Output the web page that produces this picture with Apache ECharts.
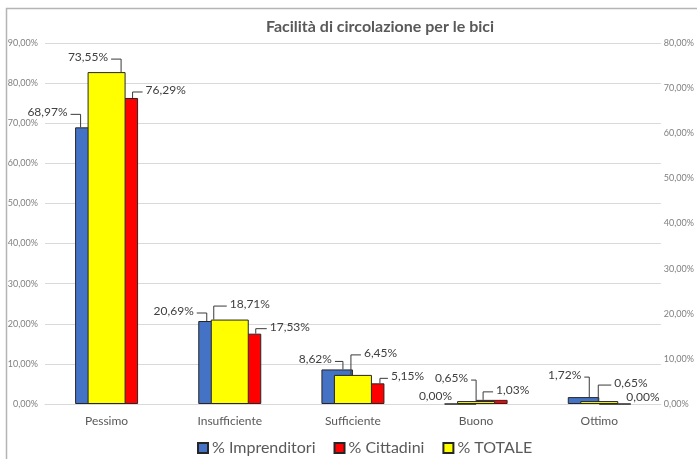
<!DOCTYPE html>
<html>
<head>
<meta charset="utf-8">
<script src="https://cdn.jsdelivr.net/npm/echarts@6/dist/echarts.min.js"></script>
<style>
html,body{margin:0;padding:0;background:#fff;}
#main{width:697px;height:459px;}
</style>
</head>
<body>
<div id="main"></div>
<script>
// categorie e valori (percentuali)
var categorie = ['Pessimo', 'Insufficiente', 'Sufficiente', 'Buono', 'Ottimo'];
var imprenditori = [68.97, 20.69, 8.62, 0.00, 1.72];
var cittadini = [76.29, 17.53, 5.15, 1.03, 0.00];
var totale = [73.55, 18.71, 6.45, 0.65, 0.65];
var nomiSerie = ['% Imprenditori', '% Cittadini', '% TOTALE'];

// posizione delle etichette tipo excel: [dx aggancio, salita, tratto orizzontale, linea si/no]
var etichetteImpr = [[-26, 13, -10, 1], [-23, 8, -10, 1], [-10, 8, -8, 1], [-21, 6, 0, 0], [-10, 20, -5, 1]];
var etichetteCitt = [[26, 6, 10, 1], [26, 5, 11, 1], [27, 5, 8, 1], [7, 8, 10, 1], [20, 5, 4, 0]];
var etichetteTot = [[14.5, 13, -10, 1], [-16, 13.5, 13, 1], [-2, 20, 10, 1], [0, 21, -5, 1], [-1, 16, 13, 1]];

var font = 'Lato, "Open Sans", sans-serif';

function fmt(v){
    return v.toFixed(2).replace('.', ',') + '%';
}

function serieEtichette(nome, valori, pos, yIdx, lato){
    return {
        name: nome,
        type: 'custom',
        xAxisIndex: 0,
        yAxisIndex: yIdx,
        z: 10,
        silent: true,
        data: valori.map(function(v, i){ return [i, v]; }),
        renderItem: function(params, api){
            var i = params.dataIndex;
            var p = api.coord([api.value(0), api.value(1)]);
            var cfg = pos[i];
            var ax = p[0] + cfg[0];
            var ey = p[1] - cfg[1];
            var ex = ax + cfg[2];
            var dir = cfg[2] < 0 ? -1 : (cfg[2] > 0 ? 1 : lato);
            var figli = [];
            if (cfg[3]) {
                figli.push({
                    type: 'polyline',
                    shape: {points: [[ax, p[1]], [ax, ey], [ex, ey]]},
                    style: {stroke: '#3a3a3a', lineWidth: 1, fill: null}
                });
            }
            figli.push({
                type: 'text',
                style: {
                    text: fmt(api.value(1)),
                    x: ex + 3 * dir,
                    y: ey - 2,
                    align: dir < 0 ? 'right' : 'left',
                    verticalAlign: 'middle',
                    fill: '#404040',
                    font: '12px ' + font
                }
            });
            return {type: 'group', children: figli};
        }
    };
}

var chart = echarts.init(document.getElementById('main'));

var option = {
    backgroundColor: '#fff',
    animation: false,
    title: {
        text: 'Facilità di circolazione per le bici',
        left: 375,
        top: 14,
        textAlign: 'center',
        textStyle: {fontFamily: font, fontSize: 16, fontWeight: 'bold', color: '#595959'}
    },
    graphic: [{
        type: 'rect',
        shape: {x: 6.5, y: 8.5, width: 900, height: 700},
        style: {fill: null, stroke: '#b4b4b4', lineWidth: 1.5},
        silent: true
    }],
    legend: {
        data: nomiSerie,
        top: 435,
        left: 192,
        icon: 'rect',
        itemWidth: 10,
        itemHeight: 10,
        itemGap: 18,
        textStyle: {fontFamily: font, fontSize: 16, color: '#595959', padding: [0, 0, 0, -1]}
    },
    grid: {left: 45, right: 35, top: 43, bottom: 55},
    xAxis: [{
        type: 'category',
        data: categorie,
        axisTick: {show: false},
        axisLine: {lineStyle: {color: '#d9d9d9'}},
        axisLabel: {fontFamily: font, fontSize: 12, color: '#595959', margin: 11}
    }, {
        type: 'category',
        data: categorie,
        show: false
    }],
    yAxis: [{
        type: 'value',
        min: 0,
        max: 90,
        interval: 10,
        axisLine: {show: false},
        axisTick: {show: false},
        splitLine: {lineStyle: {color: '#d9d9d9'}},
        axisLabel: {fontFamily: font, fontSize: 9, color: '#808080', margin: 7, formatter: fmt}
    }, {
        type: 'value',
        min: 0,
        max: 80,
        interval: 10,
        axisLine: {show: false},
        axisTick: {show: false},
        splitLine: {show: false},
        axisLabel: {fontFamily: font, fontSize: 9, color: '#808080', margin: 3, formatter: fmt}
    }],
    series: [{
        name: nomiSerie[0],
        type: 'bar',
        xAxisIndex: 0,
        yAxisIndex: 0,
        barWidth: 31.5,
        barGap: 0,
        z: 2,
        itemStyle: {color: '#4472C4', borderColor: '#262626', borderWidth: 1},
        data: imprenditori
    }, {
        name: nomiSerie[1],
        type: 'bar',
        xAxisIndex: 0,
        yAxisIndex: 0,
        barWidth: 31.5,
        barGap: 0,
        z: 2,
        itemStyle: {color: '#FF0000', borderColor: '#262626', borderWidth: 1},
        data: cittadini
    }, {
        name: nomiSerie[2],
        type: 'bar',
        xAxisIndex: 1,
        yAxisIndex: 1,
        barWidth: 38,
        z: 3,
        itemStyle: {color: '#FFFF00', borderColor: '#262626', borderWidth: 1},
        data: totale
    },
    serieEtichette('etImpr', imprenditori, etichetteImpr, 0, -1),
    serieEtichette('etCitt', cittadini, etichetteCitt, 0, 1),
    serieEtichette('etTot', totale, etichetteTot, 1, 1)
    ]
};

chart.setOption(option);
</script>
</body>
</html>
